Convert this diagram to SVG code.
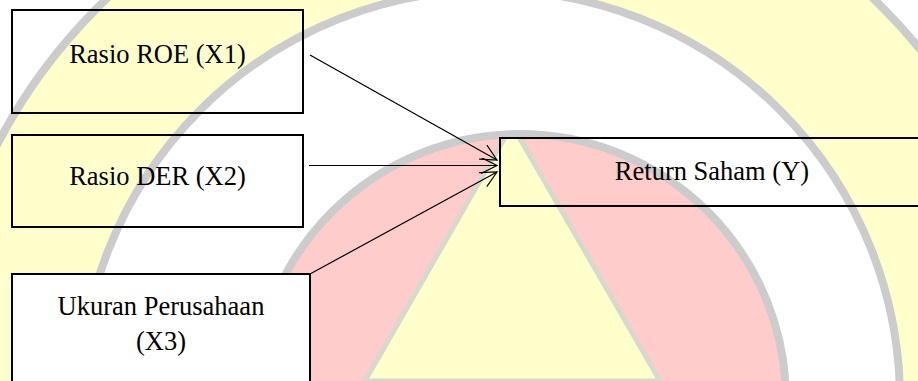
<svg xmlns="http://www.w3.org/2000/svg" width="918" height="381" viewBox="0 0 918 381">
  <defs>
    <style>
      .box { fill: none; stroke: #000; stroke-width: 2; }
      .boxw { fill: #fff; stroke: #000; stroke-width: 2; }
      .lbl { font-family: "Liberation Serif", "Times New Roman", serif; font-size: 26.5px; fill: #000; text-anchor: middle; }
      .conn { stroke: #000; stroke-width: 1.2; fill: none; marker-end: url(#arr); }
      .wm { stroke: #cccccc; stroke-width: 8; }
    </style>
    <marker id="arr" markerUnits="userSpaceOnUse" markerWidth="20" markerHeight="20" refX="17" refY="8" orient="auto">
      <path d="M1,0 L17,8 L1,16" fill="none" stroke="#000" stroke-width="1.2"/>
    </marker>
    <clipPath id="inner">
      <circle cx="520" cy="400" r="262"/>
    </clipPath>
  </defs>

  <!-- watermark background -->
  <g id="watermark">
    <rect x="0" y="0" width="918" height="381" fill="#fff"/>
    <circle class="wm" cx="490" cy="400" r="555" fill="#ffffcc"/>
    <circle class="wm" cx="490" cy="400" r="410" fill="#fff"/>
    <circle class="wm" cx="520" cy="400" r="266" fill="#ffcccc"/>
    <polygon points="512,125 365,381 660,381" fill="#ffffcc" stroke="#d8d8cc" stroke-width="5" clip-path="url(#inner)"/>
  </g>

  <g id="connectors">
    <line class="conn" x1="310" y1="55" x2="497" y2="160"/>
    <line class="conn" x1="309" y1="165.5" x2="497" y2="165.5" stroke-width="1"/>
    <line class="conn" x1="310" y1="274" x2="497" y2="172"/>
  </g>

  <g id="x1">
    <rect class="box" x="12" y="10" width="291" height="103"/>
    <text class="lbl" x="157.5" y="63">Rasio ROE (X1)</text>
  </g>
  <g id="x2">
    <rect class="box" x="12" y="135" width="291" height="92"/>
    <text class="lbl" x="157.5" y="185">Rasio DER (X2)</text>
  </g>
  <g id="x3">
    <rect class="boxw" x="12" y="274" width="298" height="150"/>
    <text class="lbl" x="161" y="315">Ukuran Perusahaan</text>
    <text class="lbl" x="161" y="350">(X3)</text>
  </g>
  <g id="y">
    <rect class="box" x="500" y="138" width="424" height="68"/>
    <text class="lbl" x="712" y="180">Return Saham (Y)</text>
  </g>
</svg>
